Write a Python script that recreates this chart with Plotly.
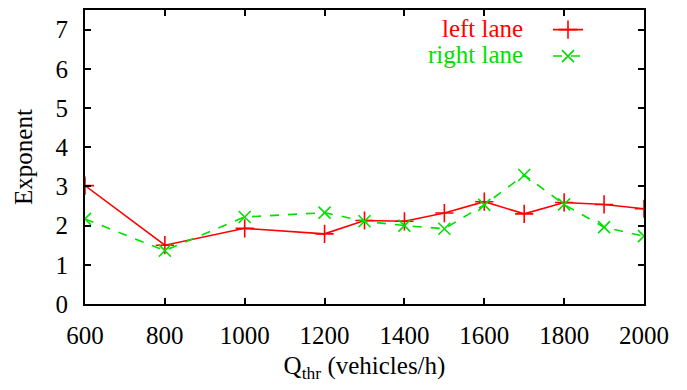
import plotly.graph_objects as go

q_thr = [600, 800, 1000, 1200, 1300, 1400, 1500, 1600, 1700, 1800, 1900, 2000]
left_lane = [3.02, 1.50, 1.93, 1.79, 2.13, 2.11, 2.32, 2.61, 2.30, 2.59, 2.54, 2.43]
right_lane = [2.17, 1.36, 2.22, 2.33, 2.11, 2.00, 1.92, 2.53, 3.29, 2.54, 1.96, 1.73]
x_ticks = [600, 800, 1000, 1200, 1400, 1600, 1800, 2000]
y_ticks = [0, 1, 2, 3, 4, 5, 6, 7]

RED = "#ff0000"
GREEN = "#00e000"
FONT = "Liberation Serif, Times New Roman, Times, serif"
FS = 25

fig = go.Figure()
fig.add_trace(go.Scatter(
    x=q_thr, y=left_lane, mode="lines+markers", name=" ",
    line=dict(color=RED, width=1.6),
    marker=dict(symbol="cross-thin", size=13, line=dict(color=RED, width=1.6)),
))
fig.add_trace(go.Scatter(
    x=q_thr, y=right_lane, mode="lines+markers", name=" ",
    line=dict(color=GREEN, width=1.6, dash="dash"),
    marker=dict(symbol="x-thin", size=12, line=dict(color=GREEN, width=1.6)),
))

fig.add_annotation(xref="paper", yref="paper", x=(525 - 85) / 559, y=0.936, xanchor="right",
                   yanchor="middle", showarrow=False, text="left lane",
                   font=dict(family=FONT, size=FS, color=RED))
fig.add_annotation(xref="paper", yref="paper", x=(525 - 85) / 559, y=0.848, xanchor="right",
                   yanchor="middle", showarrow=False, text="right lane",
                   font=dict(family=FONT, size=FS, color=GREEN))

axis_common = dict(showline=True, linecolor="black", linewidth=2, mirror="ticks",
                   ticks="inside", ticklen=6, tickwidth=1.5, tickcolor="black",
                   showgrid=False, zeroline=False,
                   tickfont=dict(family=FONT, size=FS, color="black"))

fig.update_xaxes(range=[600, 2000], tickvals=x_ticks, ticklabelstandoff=8,
                 title=dict(text="Q<sub>thr</sub> (vehicles/h)",
                            font=dict(family=FONT, size=FS, color="black"), standoff=8),
                 **axis_common)
fig.update_yaxes(range=[0, 7.5], tickvals=y_ticks, ticklabelstandoff=10,
                 title=dict(text="Exponent",
                            font=dict(family=FONT, size=FS, color="black"), standoff=16),
                 **axis_common)

fig.update_layout(
    width=687, height=390,
    margin=dict(l=85, r=43, t=8, b=86),
    plot_bgcolor="white", paper_bgcolor="white",
    showlegend=True,
    legend=dict(x=(548 - 85) / 559, y=0.995, xanchor="left", yanchor="top",
                bgcolor="rgba(0,0,0,0)", font=dict(family=FONT, size=18),
                tracegroupgap=0),
)

fig.write_html("out.html")
